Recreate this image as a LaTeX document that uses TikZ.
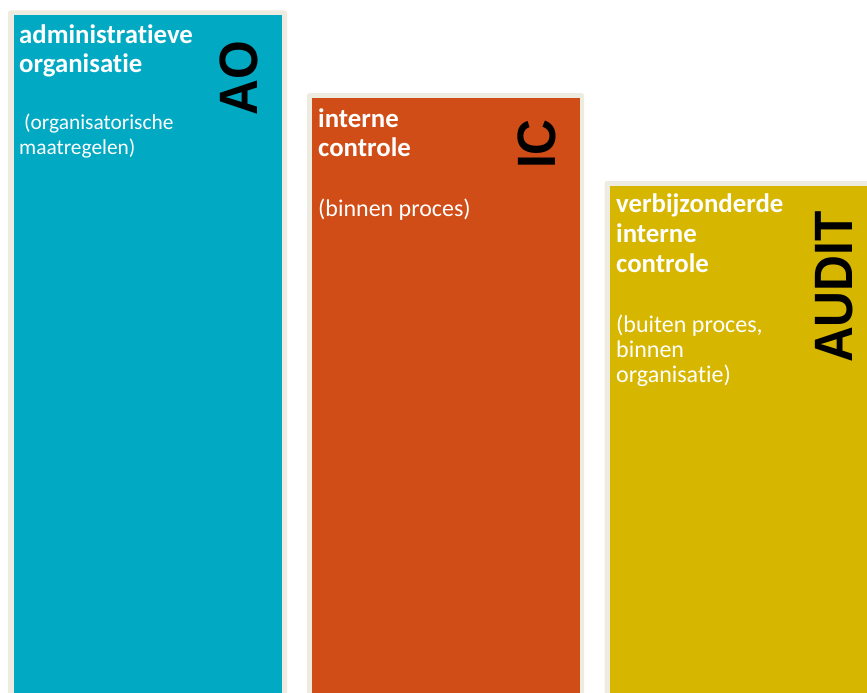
\documentclass[tikz,border=0pt]{standalone}
\usepackage{fontspec}
\setmainfont{Carlito}[Ligatures={NoCommon}]
\newfontfamily\labelfont{Liberation Sans}
\definecolor{frame}{RGB}{238,235,224}
\definecolor{aoc}{RGB}{2,169,195}
\definecolor{icc}{RGB}{209,77,23}
\definecolor{auc}{RGB}{215,182,0}
\tikzset{
  title/.style={anchor=base west, inner sep=0pt, text=white, font=\bfseries\fontsize{26.8}{30}\selectfont},
  sub/.style={anchor=base west, inner sep=0pt, text=white, font=\fontsize{24}{28}\selectfont},
  subsmall/.style={sub, font=\fontsize{21.4}{26}\selectfont},
  tag/.style={anchor=base, inner sep=0pt, rotate=90, text=black, font=\labelfont\bfseries\fontsize{54}{60}\selectfont},
  outer/.style={fill=frame, rounded corners=2.5pt},
}
\newcommand\tagtext[1]{\scalebox{0.92}[1]{#1}}
\begin{document}
\begin{tikzpicture}[x=1pt,y=-1pt]
\useasboundingbox (0,0) rectangle (867,693);
\clip (0,0) rectangle (867,693);
\fill[white] (0,0) rectangle (867,693);
% boxes
\fill[outer] (8,10.5) rectangle (287,710);
\fill[aoc] (13.5,15.5) rectangle (281.5,710);
\fill[outer] (307,93) rectangle (584,710);
\fill[icc] (312,98) rectangle (579.5,710);
\fill[outer] (604.5,181) rectangle (890,710);
\fill[auc] (609.5,186) rectangle (890,710);
% box 1
\node[title] (t1a) at (19,44) {administratieve};
\node[title] (t1b) at (19,73) {organisatie};
\node[subsmall] (s1a) at (24,129) {(organisatorische};
\node[subsmall] (s1b) at (19,154) {maatregelen)};
\node[tag] (ao) at (257,78) {\tagtext{AO}};
% box 2
\node[title] (t2a) at (318,127) {interne};
\node[title] (t2b) at (318,156) {controle};
\node[sub] (s2a) at (318,216) {(binnen proces)};
\node[tag] (ic) at (555,144) {\tagtext{IC}};
% box 3
\node[title] (t3a) at (616,212) {verbijzonderde};
\node[title] (t3b) at (616,242) {interne};
\node[title] (t3c) at (616,272) {controle};
\node[sub] (s3a) at (616,332) {(buiten proces,};
\node[sub] (s3b) at (616,357) {binnen};
\node[sub] (s3c) at (616,382) {organisatie)};
\node[tag] (audit) at (852,287) {\tagtext{AUDIT}};
\end{tikzpicture}
\end{document}
